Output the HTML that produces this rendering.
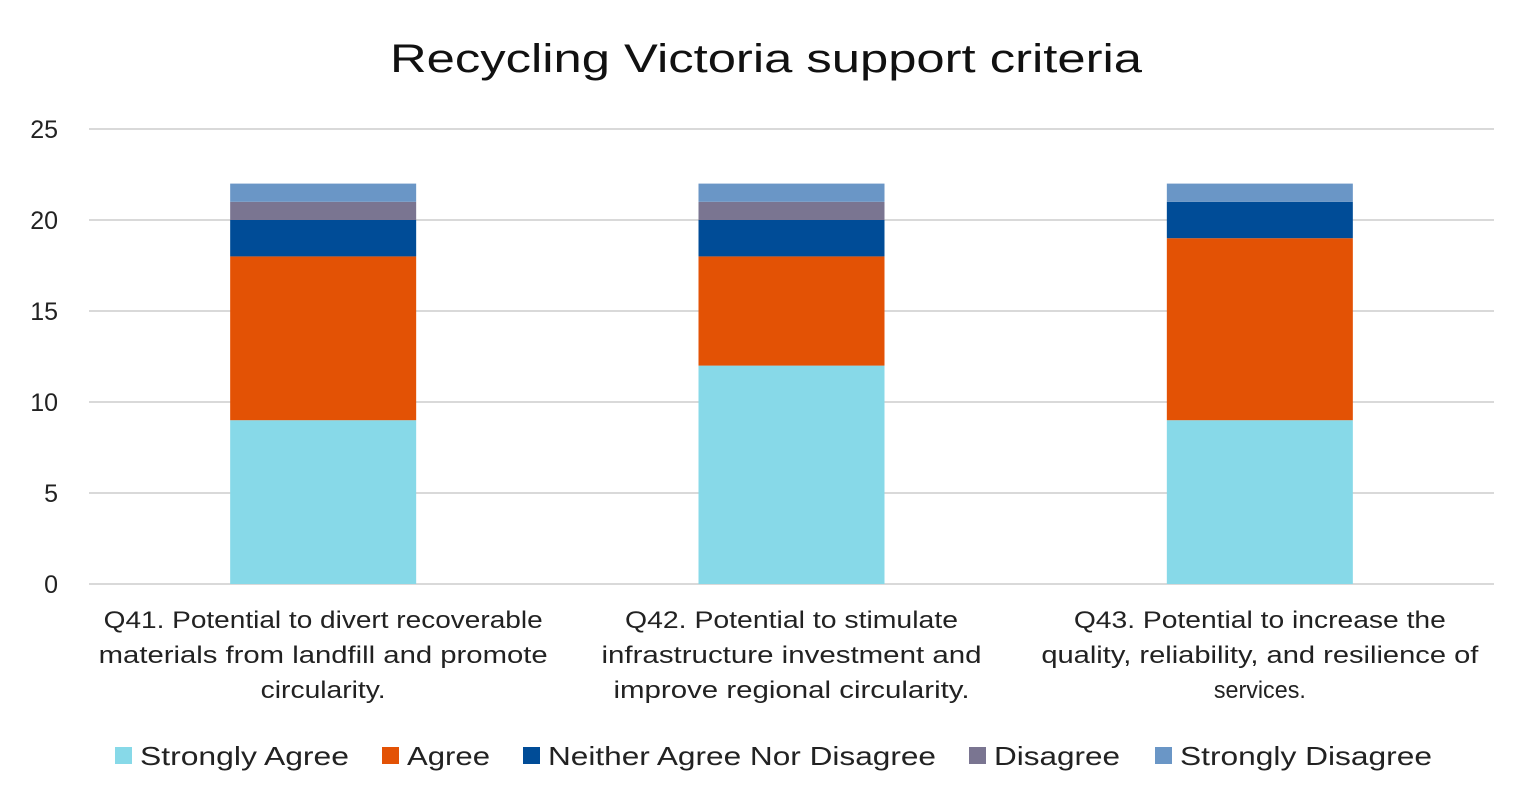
<!DOCTYPE html>
<html><head><meta charset="utf-8"><style>
body{margin:0;background:#fff;}
svg{display:block;font-family:"Liberation Sans",sans-serif;}
</style></head><body>
<svg id="chart" width="1536" height="809">
<rect width="1536" height="809" fill="#fff"/>
<text x="766" y="72" text-anchor="middle" font-size="40" fill="#111" textLength="752" lengthAdjust="spacingAndGlyphs">Recycling Victoria support criteria</text>
<g id="grid"></g><g id="bars"></g><g id="xlabels"></g><g id="legend"></g>
</svg>
<script>
const categories=[["Q41. Potential to divert recoverable","materials from landfill and promote","circularity."],["Q42. Potential to stimulate","infrastructure investment and","improve regional circularity."],["Q43. Potential to increase the","quality, reliability, and resilience of","services."]];
const seriesNames=["Strongly Agree","Agree","Neither Agree Nor Disagree","Disagree","Strongly Disagree"];
const stronglyAgree=[9,12,9];
const agree=[9,6,10];
const neither=[2,2,2];
const disagree=[1,1,0];
const stronglyDisagree=[1,1,1];
const yTicks=[0,5,10,15,20,25];
const colors=["#87D9E8","#E35205","#004C97","#7A7591","#6A96C6"];
const series=[stronglyAgree,agree,neither,disagree,stronglyDisagree];
const labelWidths=[[439,449,125],[333,380,356],[372,437,92]];
const legendWidths=[209,83,388,126,252];
const NS="http://www.w3.org/2000/svg";
const x0=89,x1=1494,y0=584,yTop=129,yMax=25;
const y=v=>y0-(v/yMax)*(y0-yTop);
const band=(x1-x0)/categories.length;
const xc=i=>x0+band*(i+0.5);
const bw=186;
function mk(tag,attrs,parent){const e=document.createElementNS(NS,tag);for(const k in attrs)e.setAttribute(k,attrs[k]);parent.appendChild(e);return e;}
const grid=document.getElementById('grid');
yTicks.forEach(t=>{
 const l=mk('line',{x1:x0,x2:x1,y1:y(t),y2:y(t),stroke:'#d9d9d9','stroke-width':2},grid);
 
 
 const tx=mk('text',{x:58,y:y(t)+9,'text-anchor':'end','font-size':25,fill:'#222'},grid);
 tx.textContent=t;
 
 
});
const bars=document.getElementById('bars');
categories.forEach((c,i)=>{
 let cum=0;
 series.forEach((s,k)=>{
  const v=s[i]; if(!v){return;}
  const r=mk('rect',{x:xc(i)-bw/2,y:y(cum+v),width:bw,height:y(cum)-y(cum+v),fill:colors[k]},bars);
  
  
  cum+=v;
 });
});
const xl=document.getElementById('xlabels');
categories.forEach((c,i)=>{
 c.forEach((line,j)=>{
  const t=mk('text',{x:xc(i),y:628+35*j,'text-anchor':'middle','font-size':24,fill:'#222',textLength:labelWidths[i][j],lengthAdjust:'spacingAndGlyphs'},xl);
  t.textContent=line;
  
  
 });
});
const lg=document.getElementById('legend');
const lx=[115,382,523,969,1155];
seriesNames.forEach((n,k)=>{
 const r=mk('rect',{x:lx[k],y:747,width:17,height:17,fill:colors[k]},lg);
 
 
 const t=mk('text',{x:lx[k]+25,y:765,'font-size':26,fill:'#222',textLength:legendWidths[k],lengthAdjust:'spacingAndGlyphs'},lg);
 t.textContent=n;
 
 
});
</script>
</body></html>
